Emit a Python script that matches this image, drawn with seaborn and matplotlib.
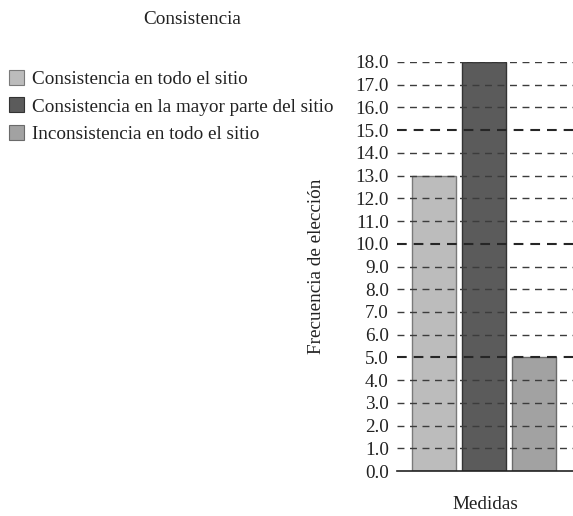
import matplotlib
matplotlib.use("Agg")
import matplotlib.pyplot as plt
import seaborn as sns
import pandas as pd
from matplotlib.patches import Patch

# Data
categorias = [
    "Consistencia en todo el sitio",
    "Consistencia en la mayor parte del sitio",
    "Inconsistencia en todo el sitio",
]
frecuencias = [13, 18, 5]
colores = ["#bcbcbc", "#5b5b5b", "#a2a2a2"]
bordes = ["#7a7a7a", "#333333", "#6a6a6a"]
yticks = list(range(0, 19))

sns.set_theme(style="white")
plt.rcParams["font.family"] = ["Liberation Serif", "DejaVu Serif"]
plt.rcParams["lines.scale_dashes"] = False
texto = "#222222"
fs = 13.8

df = pd.DataFrame({"categoria": categorias, "frecuencia": frecuencias})

fig = plt.figure(figsize=(5.73, 5.16), dpi=100)
ax = fig.add_axes([397 / 573, 1 - 471 / 516, 176 / 573, 409 / 516])

sns.barplot(data=df, x="categoria", y="frecuencia", hue="categoria",
            palette=colores, width=0.88, legend=False, ax=ax, zorder=2)
for p, ec in zip(ax.patches, bordes):
    p.set_edgecolor(ec)
    p.set_linewidth(1.0)

ax.set_xlim(-0.74, 2.78)
ax.set_ylim(0, 18)
ax.set_yticks(yticks)
ax.set_yticklabels([f"{v:.1f}" for v in yticks], fontsize=fs, color=texto)
ax.set_xticks([])
ax.tick_params(axis="y", length=0, pad=6)

# Dashed horizontal guides drawn over the bars; every fifth is bolder
for v in yticks[1:]:
    if v % 5 == 0:
        ax.axhline(v, color="#262626", lw=1.5, ls=(0, (7, 5)), zorder=3)
    else:
        ax.axhline(v, color="#3c3c3c", lw=1.0, ls=(0, (5, 4)), zorder=3)

for s in ["left", "top", "right"]:
    ax.spines[s].set_visible(False)
ax.spines["bottom"].set_color("#222222")
ax.spines["bottom"].set_linewidth(1.2)
ax.spines["bottom"].set_zorder(4)

ax.set_xlabel("Medidas", fontsize=fs, color=texto)
ax.xaxis.set_label_coords(0.5, -0.062)
ax.set_ylabel("Frecuencia de elección", fontsize=fs, color=texto)
ax.yaxis.set_label_coords(-0.41, 0.5)

fig.text(192 / 573, 1 - 20 / 516, "Consistencia", fontsize=fs, color=texto,
         ha="center", va="center")

handles = [Patch(facecolor=c, edgecolor=e, linewidth=0.8)
           for c, e in zip(colores, bordes)]
fig.legend(handles, categorias, loc="upper left",
           bbox_to_anchor=(3 / 573, 1 - 64 / 516), frameon=False,
           fontsize=fs, labelcolor=texto, handlelength=0.82, handleheight=0.82,
           handletextpad=0.4, labelspacing=0.5, borderaxespad=0, borderpad=0.3)

fig.savefig("out.png", dpi=100, facecolor="white")
